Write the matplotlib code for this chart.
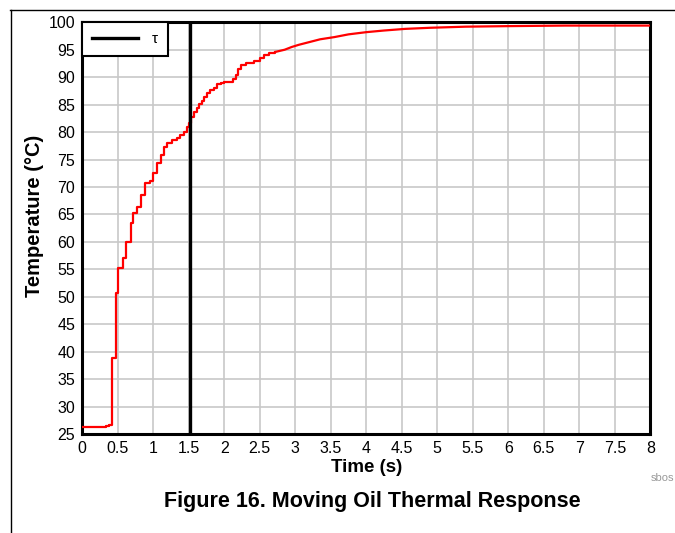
import matplotlib
matplotlib.use("Agg")
import matplotlib.pyplot as plt
from matplotlib.lines import Line2D

plt.rcParams['font.family'] = ['Liberation Sans', 'DejaVu Sans']

# Early, visibly stepped part of the response
time_early = [0, 0.25, 0.33, 0.38, 0.42, 0.48, 0.51, 0.57, 0.61, 0.68, 0.72, 0.77,
              0.83, 0.89, 0.96, 1.00, 1.05, 1.11, 1.15, 1.20, 1.27, 1.33, 1.38, 1.43,
              1.47, 1.50, 1.53, 1.57, 1.61, 1.64, 1.68, 1.72, 1.76, 1.80, 1.85, 1.90,
              1.95, 2.00, 2.12, 2.16, 2.20, 2.24, 2.30, 2.42, 2.50, 2.56, 2.63, 2.72]
temp_early = [26.2, 26.2, 26.4, 26.7, 38.8, 50.6, 55.2, 57.0, 59.9, 63.5, 65.2, 66.3,
              68.5, 70.7, 71.1, 72.5, 74.4, 75.8, 77.3, 78.0, 78.5, 79.0, 79.4, 80.1,
              81.0, 81.7, 82.7, 83.6, 84.3, 85.1, 85.7, 86.4, 87.2, 87.7, 88.1, 88.7,
              89.0, 89.2, 89.7, 90.4, 91.5, 92.3, 92.6, 93.0, 93.5, 94.0, 94.4, 94.6]
# Later, smoother part of the response
time_late = [2.72, 2.85, 2.95, 3.05, 3.20, 3.35, 3.55, 3.75, 4.00, 4.25, 4.55,
             4.90, 5.40, 6.00, 6.80, 8.00]
temp_late = [94.6, 95.0, 95.5, 95.9, 96.4, 96.9, 97.3, 97.8, 98.2, 98.5, 98.8,
             99.0, 99.2, 99.3, 99.4, 99.4]
tau = 1.52

x_ticks = [0, 0.5, 1, 1.5, 2, 2.5, 3, 3.5, 4, 4.5, 5, 5.5, 6, 6.5, 7, 7.5, 8]
x_labels = ['0', '0.5', '1', '1.5', '2', '2.5', '3', '3.5', '4', '4.5', '5',
            '5.5', '6', '6.5', '7', '7.5', '8']
y_ticks = list(range(25, 101, 5))

fig = plt.figure(figsize=(6.75, 5.33), dpi=100)
ax = fig.add_axes([0.1219, 0.1857, 0.8415, 0.7725])

ax.plot(time_early, temp_early, color='#ff0000', lw=1.6, drawstyle='steps-post', zorder=3)
ax.plot(time_late, temp_late, color='#ff0000', lw=1.6, zorder=3)
ax.axvline(tau, color='black', lw=2.4, zorder=4, label='τ')

ax.set_xlim(0, 8)
ax.set_ylim(25, 100)
ax.set_xticks(x_ticks)
ax.set_xticklabels(x_labels)
ax.set_yticks(y_ticks)
ax.tick_params(length=0, labelsize=11.5, pad=5)
ax.grid(True, color='#c8c8c8', lw=1.2, zorder=0)
ax.set_axisbelow(True)
for s in ax.spines.values():
    s.set_linewidth(2.2)
    s.set_color('black')

ax.set_xlabel('Time (s)', fontsize=13.5, fontweight='bold', labelpad=2)
ax.set_ylabel('Temperature (°C)', fontsize=14.5, fontweight='bold')
ax.yaxis.set_label_coords(-0.068, 0.53)

leg = ax.legend(loc='upper left', fontsize=11, frameon=True, fancybox=False,
                borderaxespad=0, handlelength=3.0, borderpad=0.65, handletextpad=0.9)
leg.get_frame().set_edgecolor('black')
leg.get_frame().set_linewidth(1.5)
leg.get_frame().set_alpha(1)

fig.text(372 / 675, 1 - 501 / 533, 'Figure 16. Moving Oil Thermal Response',
         ha='center', va='center', fontsize=15.5, fontweight='bold')
fig.text(651 / 675, 1 - 478 / 533, 'sbos', ha='left', va='center',
         fontsize=8, color='#999999')

fig.add_artist(Line2D([10 / 675, 1], [1 - 9.5 / 533, 1 - 9.5 / 533],
                      transform=fig.transFigure, color='black', lw=1))
fig.add_artist(Line2D([10.5 / 675, 10.5 / 675], [1 - 9.5 / 533, 0],
                      transform=fig.transFigure, color='black', lw=1))

fig.savefig('out.png', dpi=100)
